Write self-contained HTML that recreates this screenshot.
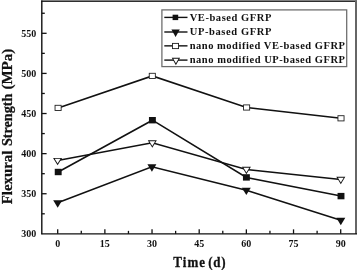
<!DOCTYPE html>
<html><head><meta charset="utf-8"><title>Flexural Strength</title>
<style>
html,body{margin:0;padding:0;background:#fff;}
body{width:357px;height:270px;overflow:hidden;}
svg{display:block;}
text{font-family:"Liberation Serif","Times New Roman",serif;font-weight:bold;fill:#111;}
.tk{font-size:10px;}
.lg{font-size:10.5px;}
.ti{font-size:14px;stroke:#111;stroke-width:0.25px;}
.ty{stroke:#111;stroke-width:0.25px;}
</style></head><body>
<svg style="will-change:transform" width="357" height="270" viewBox="0 0 357 270">
<rect x="0" y="0" width="357" height="270" fill="#fff"/>
<rect x="41.2" y="0" width="315.8" height="1" fill="#8c8c8c"/>
<rect x="41.2" y="0.9" width="315.8" height="1.1" fill="#2e2e2e"/>
<line x1="356" y1="0.6" x2="356" y2="234" stroke="#666" stroke-width="2"/>
<line x1="41.8" y1="0.6" x2="41.8" y2="234.35" stroke="#111" stroke-width="1.4"/>
<line x1="41.3" y1="233.85" x2="357" y2="233.85" stroke="#111" stroke-width="1.4"/>
<line x1="41.8" y1="213.80" x2="44.8" y2="213.80" stroke="#111" stroke-width="1.3"/>
<line x1="41.8" y1="193.74" x2="46.599999999999994" y2="193.74" stroke="#111" stroke-width="1.3"/>
<line x1="41.8" y1="173.69" x2="44.8" y2="173.69" stroke="#111" stroke-width="1.3"/>
<line x1="41.8" y1="153.63" x2="46.599999999999994" y2="153.63" stroke="#111" stroke-width="1.3"/>
<line x1="41.8" y1="133.58" x2="44.8" y2="133.58" stroke="#111" stroke-width="1.3"/>
<line x1="41.8" y1="113.53" x2="46.599999999999994" y2="113.53" stroke="#111" stroke-width="1.3"/>
<line x1="41.8" y1="93.47" x2="44.8" y2="93.47" stroke="#111" stroke-width="1.3"/>
<line x1="41.8" y1="73.42" x2="46.599999999999994" y2="73.42" stroke="#111" stroke-width="1.3"/>
<line x1="41.8" y1="53.37" x2="44.8" y2="53.37" stroke="#111" stroke-width="1.3"/>
<line x1="41.8" y1="33.31" x2="46.599999999999994" y2="33.31" stroke="#111" stroke-width="1.3"/>
<line x1="41.8" y1="13.26" x2="44.8" y2="13.26" stroke="#111" stroke-width="1.3"/>
<text class="tk" x="36.2" y="237.10" text-anchor="end">300</text>
<text class="tk" x="36.2" y="196.99" text-anchor="end">350</text>
<text class="tk" x="36.2" y="156.88" text-anchor="end">400</text>
<text class="tk" x="36.2" y="116.78" text-anchor="end">450</text>
<text class="tk" x="36.2" y="76.67" text-anchor="end">500</text>
<text class="tk" x="36.2" y="36.56" text-anchor="end">550</text>
<line x1="57.70" y1="233.85" x2="57.70" y2="229.35" stroke="#111" stroke-width="1.3"/>
<line x1="81.28" y1="233.85" x2="81.28" y2="230.85" stroke="#111" stroke-width="1.3"/>
<line x1="104.87" y1="233.85" x2="104.87" y2="229.35" stroke="#111" stroke-width="1.3"/>
<line x1="128.45" y1="233.85" x2="128.45" y2="230.85" stroke="#111" stroke-width="1.3"/>
<line x1="152.03" y1="233.85" x2="152.03" y2="229.35" stroke="#111" stroke-width="1.3"/>
<line x1="175.62" y1="233.85" x2="175.62" y2="230.85" stroke="#111" stroke-width="1.3"/>
<line x1="199.20" y1="233.85" x2="199.20" y2="229.35" stroke="#111" stroke-width="1.3"/>
<line x1="222.78" y1="233.85" x2="222.78" y2="230.85" stroke="#111" stroke-width="1.3"/>
<line x1="246.36" y1="233.85" x2="246.36" y2="229.35" stroke="#111" stroke-width="1.3"/>
<line x1="269.95" y1="233.85" x2="269.95" y2="230.85" stroke="#111" stroke-width="1.3"/>
<line x1="293.53" y1="233.85" x2="293.53" y2="229.35" stroke="#111" stroke-width="1.3"/>
<line x1="317.11" y1="233.85" x2="317.11" y2="230.85" stroke="#111" stroke-width="1.3"/>
<line x1="340.70" y1="233.85" x2="340.70" y2="229.35" stroke="#111" stroke-width="1.3"/>
<text class="tk" x="57.70" y="247.1" text-anchor="middle">0</text>
<text class="tk" x="104.87" y="247.1" text-anchor="middle">15</text>
<text class="tk" x="152.03" y="247.1" text-anchor="middle">30</text>
<text class="tk" x="199.20" y="247.1" text-anchor="middle">45</text>
<text class="tk" x="246.36" y="247.1" text-anchor="middle">60</text>
<text class="tk" x="293.53" y="247.1" text-anchor="middle">75</text>
<text class="tk" x="340.70" y="247.1" text-anchor="middle">90</text>
<polyline points="58.20,172.00 152.40,120.20 246.40,177.40 341.00,196.10" fill="none" stroke="#111" stroke-width="1.55"/>
<rect x="54.75" y="168.80" width="6.9" height="6.4" fill="#111"/>
<rect x="148.95" y="117.00" width="6.9" height="6.4" fill="#111"/>
<rect x="242.95" y="174.20" width="6.9" height="6.4" fill="#111"/>
<rect x="337.55" y="192.90" width="6.9" height="6.4" fill="#111"/>
<polyline points="57.70,202.80 151.90,166.80 246.30,190.20 340.80,220.30" fill="none" stroke="#111" stroke-width="1.55"/>
<polygon points="53.20,200.25 62.20,200.25 57.70,207.65" fill="#111"/>
<polygon points="147.40,164.25 156.40,164.25 151.90,171.65" fill="#111"/>
<polygon points="241.80,187.65 250.80,187.65 246.30,195.05" fill="#111"/>
<polygon points="336.30,217.75 345.30,217.75 340.80,225.15" fill="#111"/>
<polyline points="58.10,107.90 152.30,75.90 246.60,107.50 341.00,118.30" fill="none" stroke="#111" stroke-width="1.55"/>
<rect x="55.05" y="105.30" width="6.1" height="5.2" fill="#fff" stroke="#222" stroke-width="0.9"/>
<rect x="149.25" y="73.30" width="6.1" height="5.2" fill="#fff" stroke="#222" stroke-width="0.9"/>
<rect x="243.55" y="104.90" width="6.1" height="5.2" fill="#fff" stroke="#222" stroke-width="0.9"/>
<rect x="337.95" y="115.70" width="6.1" height="5.2" fill="#fff" stroke="#222" stroke-width="0.9"/>
<polyline points="57.60,160.50 152.30,142.80 246.40,169.40 340.80,179.40" fill="none" stroke="#111" stroke-width="1.55"/>
<polygon points="53.10,157.95 62.10,157.95 57.60,165.35" fill="#111"/><polygon points="54.70,158.85 60.50,158.85 57.60,163.62" fill="#fff"/>
<polygon points="147.80,140.25 156.80,140.25 152.30,147.65" fill="#111"/><polygon points="149.40,141.15 155.20,141.15 152.30,145.92" fill="#fff"/>
<polygon points="241.90,166.85 250.90,166.85 246.40,174.25" fill="#111"/><polygon points="243.50,167.75 249.30,167.75 246.40,172.52" fill="#fff"/>
<polygon points="336.30,176.85 345.30,176.85 340.80,184.25" fill="#111"/><polygon points="337.90,177.75 343.70,177.75 340.80,182.52" fill="#fff"/>
<rect x="161.9" y="9.9" width="184.8" height="56.7" fill="#fff" stroke="#6a6a6a" stroke-width="1.25"/>
<line x1="164.3" y1="17.40" x2="187.5" y2="17.40" stroke="#111" stroke-width="1.4"/>
<rect x="172.60" y="14.70" width="5.6" height="5.4" fill="#111"/>
<text class="lg" x="189.7" y="20.65" textLength="81.6" lengthAdjust="spacing">VE-based GFRP</text>
<line x1="164.3" y1="32.00" x2="187.5" y2="32.00" stroke="#111" stroke-width="1.4"/>
<polygon points="171.40,29.50 179.80,29.50 175.60,36.90" fill="#111"/>
<text class="lg" x="189.7" y="35.25" textLength="81.6" lengthAdjust="spacing">UP-based GFRP</text>
<line x1="164.3" y1="45.85" x2="187.5" y2="45.85" stroke="#111" stroke-width="1.4"/>
<rect x="172.45" y="43.40" width="6.1" height="5.2" fill="#fff" stroke="#222" stroke-width="0.9"/>
<text class="lg" x="189.7" y="49.10" textLength="155.3" lengthAdjust="spacing">nano modified VE-based GFRP</text>
<line x1="164.3" y1="60.10" x2="187.5" y2="60.10" stroke="#111" stroke-width="1.4"/>
<polygon points="171.75,57.80 180.05,57.80 175.90,65.20" fill="#111"/><polygon points="173.29,58.70 178.51,58.70 175.90,63.36" fill="#fff"/>
<text class="lg" x="189.7" y="63.35" textLength="155.3" lengthAdjust="spacing">nano modified UP-based GFRP</text>
<text class="ti" style="font-size:13px" transform="translate(173.3,266.6) scale(1,1.07)" textLength="31.8" lengthAdjust="spacing">Time</text>
<text class="ti" style="font-size:13px" transform="translate(208.2,266.6) scale(1,1.07)" textLength="17.4" lengthAdjust="spacing">(d)</text>
<g transform="translate(11.9,204.6) rotate(-90)" style="font-size:14.6px">
<text class="ty" x="0.30" y="0" textLength="53.60" lengthAdjust="spacingAndGlyphs">Flexural</text>
<text class="ty" x="58.60" y="0" textLength="52.30" lengthAdjust="spacingAndGlyphs">Strength</text>
<text class="ty" x="115.00" y="0" textLength="40.90" lengthAdjust="spacingAndGlyphs">(MPa)</text>
</g>
</svg></body></html>
